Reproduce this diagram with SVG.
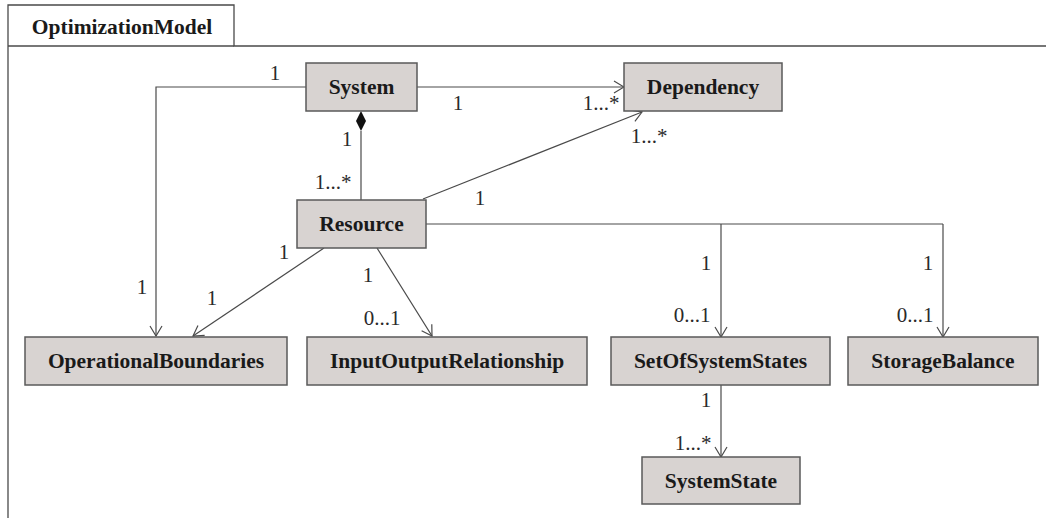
<svg xmlns="http://www.w3.org/2000/svg" width="1046" height="518" viewBox="0 0 1046 518">
  <style>
    .box { fill: #d8d3d1; stroke: #5a5a5a; stroke-width: 1.5; }
    .name { font-family: "Liberation Serif", "Times New Roman", serif; font-weight: bold; font-size: 21.5px; fill: #1a1a1a; text-anchor: middle; }
    .mult { font-family: "Liberation Serif", "Times New Roman", serif; font-size: 21px; fill: #2a2a2a; text-anchor: middle; }
    .conn { fill: none; stroke: #4a4a4a; stroke-width: 1.2; }
    .frame { fill: none; stroke: #4a4a4a; stroke-width: 1.3; }
  </style>
  <defs>
    <marker id="open" markerUnits="userSpaceOnUse" markerWidth="12" markerHeight="14" refX="11" refY="7" orient="auto">
      <path d="M1,1 L11,7 L1,13" fill="none" stroke="#4a4a4a" stroke-width="1.2"/>
    </marker>
  </defs>
  <rect width="1046" height="518" fill="#ffffff"/>

  <!-- package frame -->
  <g id="package">
    <path class="frame" d="M8,518 L8,5 L234,5 L234,46 L1046,46"/>
    <line class="frame" x1="8" y1="46" x2="234" y2="46"/>
    <text x="122" y="34" class="name">OptimizationModel</text>
  </g>

  <!-- associations -->
  <g id="connectors">
    <!-- System to OperationalBoundaries -->
    <path class="conn" d="M306,87 L156,87 L156,336" marker-end="url(#open)"/>
    <!-- System to Dependency -->
    <path class="conn" d="M417,87 L624,87" marker-end="url(#open)"/>
    <!-- System composition of Resource -->
    <path class="conn" d="M361,131 L361,200"/>
    <path d="M361,111 L366,121 L361,131 L356,121 Z" fill="#111"/>
    <!-- Resource to Dependency -->
    <path class="conn" d="M423,199 L642,112" marker-end="url(#open)"/>
    <!-- Resource to OperationalBoundaries -->
    <path class="conn" d="M324,248 L193,336" marker-end="url(#open)"/>
    <!-- Resource to InputOutputRelationship -->
    <path class="conn" d="M377,248 L432,336" marker-end="url(#open)"/>
    <!-- Resource to SetOfSystemStates / StorageBalance -->
    <path class="conn" d="M426,224 L943,224"/>
    <path class="conn" d="M721,224 L721,337" marker-end="url(#open)"/>
    <path class="conn" d="M943,224 L943,337" marker-end="url(#open)"/>
    <!-- SetOfSystemStates to SystemState -->
    <path class="conn" d="M721,385 L721,457" marker-end="url(#open)"/>

    <!-- multiplicities -->
    <text class="mult" x="275" y="80">1</text>
    <text class="mult" x="458" y="110">1</text>
    <text class="mult" x="601" y="110">1...*</text>
    <text class="mult" x="347" y="146">1</text>
    <text class="mult" x="333" y="189">1...*</text>
    <text class="mult" x="649" y="143">1...*</text>
    <text class="mult" x="480" y="205">1</text>
    <text class="mult" x="142" y="294">1</text>
    <text class="mult" x="284" y="259">1</text>
    <text class="mult" x="212" y="305">1</text>
    <text class="mult" x="368" y="282">1</text>
    <text class="mult" x="382" y="325">0...1</text>
    <text class="mult" x="706" y="270">1</text>
    <text class="mult" x="692" y="322">0...1</text>
    <text class="mult" x="928" y="270">1</text>
    <text class="mult" x="915" y="322">0...1</text>
    <text class="mult" x="706" y="407">1</text>
    <text class="mult" x="693" y="450">1...*</text>
  </g>

  <!-- classes -->
  <g id="System">
    <rect class="box" x="306" y="63" width="111" height="48"/>
    <text class="name" x="361.5" y="94">System</text>
  </g>
  <g id="Dependency">
    <rect class="box" x="624" y="63" width="158" height="48"/>
    <text class="name" x="703" y="94">Dependency</text>
  </g>
  <g id="Resource">
    <rect class="box" x="297" y="200" width="129" height="48"/>
    <text class="name" x="361.5" y="231">Resource</text>
  </g>
  <g id="OperationalBoundaries">
    <rect class="box" x="25" y="337" width="262" height="48"/>
    <text class="name" x="156" y="368">OperationalBoundaries</text>
  </g>
  <g id="InputOutputRelationship">
    <rect class="box" x="307" y="337" width="280" height="48"/>
    <text class="name" x="447" y="368">InputOutputRelationship</text>
  </g>
  <g id="SetOfSystemStates">
    <rect class="box" x="611" y="337" width="219" height="48"/>
    <text class="name" x="720.5" y="368">SetOfSystemStates</text>
  </g>
  <g id="StorageBalance">
    <rect class="box" x="848" y="337" width="190" height="48"/>
    <text class="name" x="943" y="368">StorageBalance</text>
  </g>
  <g id="SystemState">
    <rect class="box" x="642" y="457" width="158" height="47"/>
    <text class="name" x="721" y="487.5">SystemState</text>
  </g>
</svg>
